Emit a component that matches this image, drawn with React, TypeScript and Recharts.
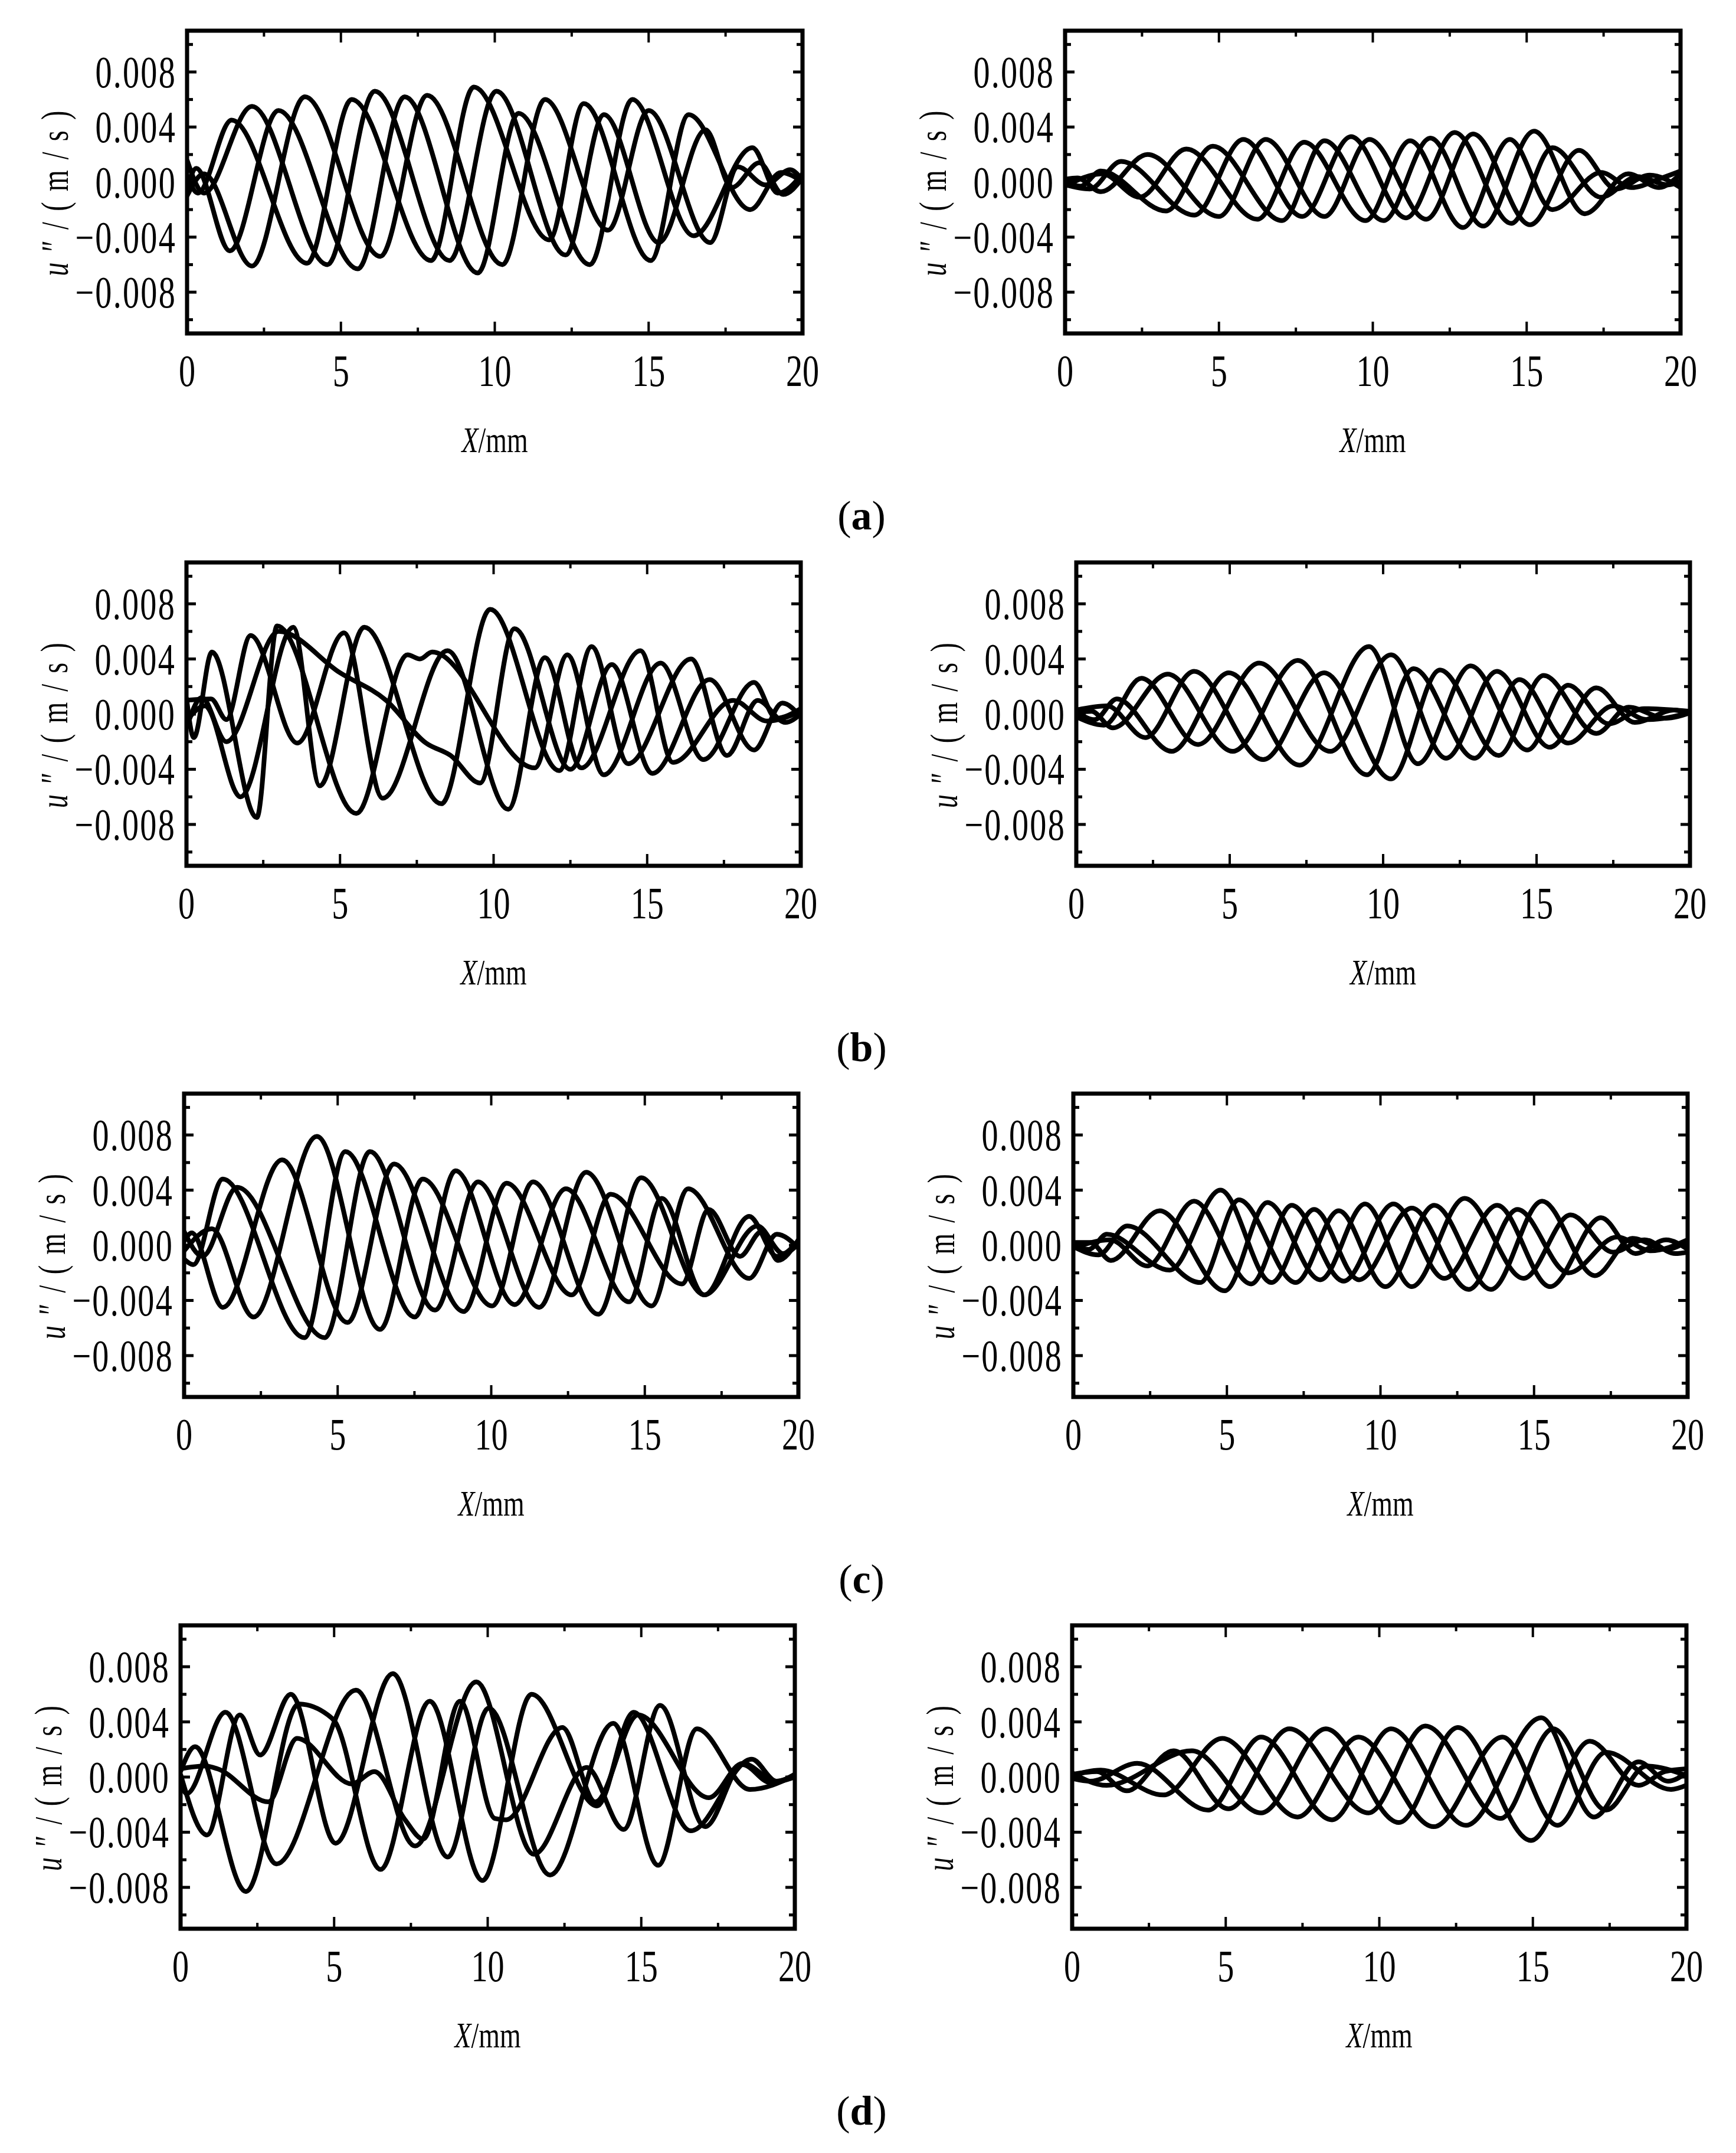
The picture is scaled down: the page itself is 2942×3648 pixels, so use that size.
import React from 'react';
import { LineChart, Line, XAxis, YAxis, ReferenceArea } from 'recharts';

type Pt = [number, number];

const X_TICKS = [0, 2.5, 5, 7.5, 10, 12.5, 15, 17.5, 20];
const Y_TICKS = [-0.01, -0.008, -0.006, -0.004, -0.002, 0, 0.002, 0.004, 0.006, 0.008, 0.01];
const PANEL_NAMES = ['a', 'b', 'c', 'd'];

// (a) left
const aL1: Pt[] = [[0, 0.0005], [0.35, -0.0008], [1.45, 0.0045], [3.9, -0.0059], [5.35, 0.006], [7.93, -0.0057], [9.32, 0.0069], [11.77, -0.0042], [12.89, 0.0057], [15.07, -0.0057], [16.3, 0.0049], [18.3, -0.002], [19.3, 0.0007], [20, 0]];
const aL2: Pt[] = [[0, 0.0016], [0.55, -0.0008], [2.11, 0.0055], [4.56, -0.006], [6.1, 0.0066], [8.53, -0.0057], [10.05, 0.0066], [12.3, -0.0053], [13.55, 0.0049], [15.33, -0.0044], [16.85, 0.0038], [17.7, -0.0004], [18.6, 0.0014], [19.37, -0.0009], [20, 0.0003]];
const aL3: Pt[] = [[0, -0.0005], [0.3, 0.001], [1.39, -0.005], [2.97, 0.0052], [5.55, -0.0063], [7.07, 0.0062], [9.45, -0.0066], [10.77, 0.005], [13.09, -0.006], [14.47, 0.006], [16.46, -0.0039], [18.37, 0.0025], [19.2, -0.0008], [20, 0.0006]];
const aL4: Pt[] = [[0, -0.001], [0.55, 0.0006], [2.11, -0.0061], [3.83, 0.0062], [6.28, -0.0054], [7.8, 0.0063], [10.25, -0.006], [11.63, 0.006], [13.68, -0.0035], [15.0, 0.0052], [17.0, -0.0044], [17.9, 0.0011], [18.8, -0.0002], [19.6, 0.0009], [20, 0.0001]];

// (a) right
const aR1: Pt[] = [[0, 0.0001], [0.5, -0.0003], [1.16, 0.0008], [3.28, -0.0021], [4.8, 0.0026], [7.05, -0.0028], [8.43, 0.003], [10.35, -0.0028], [11.87, 0.0032], [13.59, -0.0032], [15.24, 0.0037], [16.89, -0.0023], [18.3, 0.0006], [19.3, -0.0004], [20, 0.0006]];
const aR2: Pt[] = [[0, -0.0002], [0.8, -0.0005], [1.82, 0.0015], [4.2, -0.0024], [5.79, 0.0031], [7.71, -0.0025], [9.29, 0.0033], [11.08, -0.0026], [12.66, 0.0036], [14.5, -0.003], [15.84, 0.0025], [17.42, -0.0011], [18.6, 0.0004], [19.6, -0.0002], [20, 0.0001]];
const aR3: Pt[] = [[0, 0.0002], [0.4, 0.0003], [1.16, -0.0007], [2.68, 0.002], [5.0, -0.0025], [6.52, 0.0031], [8.43, -0.0025], [9.89, 0.0031], [11.74, -0.0027], [13.26, 0.0035], [15.11, -0.0031], [16.7, 0.0023], [17.9, -0.0005], [19.0, 0.0005], [20, -0.0004]];
const aR4: Pt[] = [[0, -0.0003], [1.2, 0.0006], [2.42, -0.0011], [3.94, 0.0024], [6.25, -0.0027], [7.77, 0.0029], [9.76, -0.0028], [11.21, 0.003], [12.93, -0.0033], [14.45, 0.0031], [15.84, -0.002], [17.42, 0.0007], [18.4, -0.0004], [19.4, 0.0003], [20, 0.0008]];

// (b) left
const bL1: Pt[] = [[0, 0.001], [0.8, 0.0011], [1.3, -0.0004], [2.09, 0.0057], [3.61, -0.0021], [5.13, 0.0059], [6.39, -0.0061], [8.5, 0.0046], [10.48, -0.0069], [11.67, 0.0041], [12.86, -0.0039], [14.78, 0.0046], [15.84, -0.0035], [17.8, 0.001], [18.9, -0.0005], [20, 0.0002]];
const bL2: Pt[] = [[0, 0.0012], [0.24, -0.0017], [0.83, 0.0045], [2.29, -0.0075], [2.95, 0.0064], [5.53, -0.0072], [7.2, 0.0043], [7.6, 0.004], [8.0, 0.0045], [11.34, -0.0039], [12.4, 0.0043], [13.59, -0.0044], [15.44, 0.0037], [16.83, -0.0033], [18.48, 0.0023], [19.2, -0.0003], [20, 0.0004]];
const bL3: Pt[] = [[0, -0.0005], [0.6, 0.0006], [1.76, -0.006], [3.48, 0.0063], [4.34, -0.0052], [5.79, 0.0063], [8.3, -0.0065], [9.89, 0.0076], [12.14, -0.0041], [13.19, 0.0049], [14.38, -0.0036], [16.43, 0.004], [17.6, -0.003], [18.6, 0.001], [19.5, -0.0006], [20, 0]];
const bL4: Pt[] = [[0, -0.001], [0.5, 0.0012], [1.3, -0.002], [3.0, 0.006], [5.0, 0.003], [6.5, 0.001], [7.8, -0.0021], [8.6, -0.003], [9.56, -0.005], [10.68, 0.0062], [12.5, -0.004], [13.85, 0.0036], [15.17, -0.0043], [17.03, 0.0025], [18.48, -0.0026], [19.4, 0.0008], [20, -0.0002]];

// (b) right
const bR1: Pt[] = [[0, 0.0002], [0.6, -0.0004], [1.32, 0.0011], [3.11, -0.0027], [4.97, 0.003], [7.28, -0.0037], [9.54, 0.0049], [11.13, -0.0036], [12.85, 0.0035], [14.7, -0.0026], [16.03, 0.0021], [17.35, -0.0007], [18.5, 0.0004], [20, 0.0002]];
const bR2: Pt[] = [[0, -0.0002], [0.9, -0.0008], [2.12, 0.0026], [3.97, -0.0022], [5.96, 0.0037], [8.28, -0.0027], [10.26, 0.0043], [12.05, -0.0032], [13.71, 0.0031], [15.43, -0.0024], [16.95, 0.0019], [18.2, -0.0006], [19.5, 0.0003], [20, 0]];
const bR3: Pt[] = [[0, 0.0001], [0.5, 0.0002], [1.19, -0.001], [2.98, 0.0029], [5.1, -0.0027], [7.22, 0.0039], [9.47, -0.0044], [10.99, 0.0033], [12.98, -0.0032], [14.44, 0.0025], [16.03, -0.0021], [17.5, 0.0006], [18.6, -0.0004], [20, 0.0001]];
const bR4: Pt[] = [[0, 0.0003], [1.0, 0.0006], [2.25, -0.0017], [3.84, 0.0031], [6.09, -0.0033], [8.08, 0.003], [10.26, -0.0047], [11.85, 0.0032], [13.77, -0.003], [15.23, 0.0028], [16.95, -0.0014], [18.0, 0.0005], [19.2, -0.0003], [20, 0.0001]];

// (c) left
const cL1: Pt[] = [[0, -0.001], [0.3, -0.0014], [1.26, 0.0048], [3.92, -0.0067], [5.25, 0.0068], [7.51, -0.0052], [8.84, 0.0054], [10.76, -0.0043], [12.43, 0.0041], [14.49, -0.0041], [15.55, 0.0034], [16.94, -0.0036], [18.67, 0.0014], [19.5, -0.0006], [20, 0.0001]];
const cL2: Pt[] = [[0, 0.001], [0.6, -0.0008], [1.73, 0.0042], [4.58, -0.0067], [6.05, 0.0068], [8.17, -0.0047], [9.57, 0.0046], [11.56, -0.0045], [13.09, 0.0053], [15.22, -0.0044], [16.41, 0.0041], [18.4, -0.0024], [19.3, 0.0008], [20, -0.0002]];
const cL3: Pt[] = [[0, 0.0003], [0.25, 0.0009], [1.26, -0.0045], [3.19, 0.0062], [5.32, -0.0056], [6.84, 0.0059], [9.1, -0.0048], [10.5, 0.0045], [12.62, -0.0036], [13.89, 0.0037], [16.21, -0.0028], [17.08, 0.0026], [18.1, -0.0008], [18.8, 0.001], [19.33, -0.0011], [20, 0.0004]];
const cL4: Pt[] = [[0, -0.0004], [0.9, 0.0012], [2.26, -0.0052], [4.32, 0.0079], [6.38, -0.0061], [7.77, 0.0048], [10.03, -0.0044], [11.36, 0.0046], [13.49, -0.005], [14.88, 0.0049], [16.94, -0.0036], [18.4, 0.0021], [19.3, -0.0008], [20, 0.0003]];

// (c) right
const cR1: Pt[] = [[0, 0.0001], [0.5, -0.0003], [1.09, 0.0008], [3.14, -0.0018], [4.79, 0.004], [6.45, -0.0027], [7.84, 0.0026], [9.3, -0.0025], [11.02, 0.0027], [12.87, -0.0032], [14.46, 0.0026], [16.12, -0.002], [17.7, 0.0006], [18.8, -0.0004], [20, 0.0004]];
const cR2: Pt[] = [[0, -0.0001], [0.82, -0.0007], [1.75, 0.0014], [4.13, -0.0027], [5.39, 0.0033], [7.24, -0.0027], [8.64, 0.0025], [10.16, -0.003], [11.75, 0.0029], [13.6, -0.0032], [15.26, 0.0032], [16.98, -0.0022], [18.2, 0.0005], [19.3, -0.0003], [20, 0.0003]];
const cR3: Pt[] = [[0, 0.0002], [0.56, 0.0002], [1.22, -0.0011], [2.81, 0.0025], [4.93, -0.0033], [6.32, 0.0031], [8.04, -0.0025], [9.5, 0.003], [11.02, -0.003], [12.74, 0.0034], [14.66, -0.0024], [16.19, 0.0022], [17.58, -0.0005], [18.6, 0.0004], [19.6, -0.0006], [20, -0.0005]];
const cR4: Pt[] = [[0, -0.0002], [1.2, 0.0004], [2.41, -0.0015], [3.93, 0.0032], [5.79, -0.0028], [7.11, 0.0029], [8.8, -0.0026], [10.42, 0.003], [12.08, -0.0024], [13.8, 0.0029], [15.52, -0.003], [17.18, 0.002], [18.3, -0.0006], [19.3, 0.0004], [20, -0.0003]];

// (d) left
const dL1: Pt[] = [[0, 0.0004], [0.47, 0.0022], [2.13, -0.0083], [3.85, 0.0053], [4.8, 0.0045], [5.0, 0.0041], [6.51, -0.0067], [8.11, 0.0055], [9.83, -0.0075], [11.43, 0.006], [13.56, -0.0021], [14.75, 0.0047], [16.61, -0.0039], [18.6, 0.0013], [19.4, -0.0003], [20, 0.0001]];
const dL2: Pt[] = [[0, 0.0002], [0.86, -0.0042], [1.93, 0.0045], [2.59, 0.0016], [3.59, 0.006], [5.05, -0.0048], [6.91, 0.0075], [8.7, -0.0058], [10.03, 0.005], [12.03, -0.0071], [14.09, 0.0039], [15.55, -0.0064], [16.81, 0.0035], [18.54, -0.0009], [20, 0.0001]];
const dL3: Pt[] = [[0, -0.0004], [0.2, -0.0012], [1.46, 0.0047], [3.12, -0.0063], [5.71, 0.0063], [7.64, -0.005], [9.63, 0.0069], [11.5, -0.0056], [13.22, 0.0007], [14.43, -0.0038], [15.61, 0.0052], [17.08, -0.0036], [18.3, 0.0009], [19.2, -0.0004], [20, 0]];
const dL4: Pt[] = [[0, 0.0006], [0.8, 0.0008], [1.2, 0.0006], [2.86, -0.0018], [3.79, 0.0028], [5.58, -0.0005], [6.31, 0.0004], [7.31, -0.0031], [7.9, -0.0045], [9.1, 0.0055], [10.23, -0.003], [10.6, -0.0031], [12.43, 0.0036], [13.5, -0.0018], [14.9, 0.0045], [17.2, -0.0015], [18.3, 0.001], [19.4, -0.0003], [20, 0.0002]];

// (d) right
const dR1: Pt[] = [[0, 0.0001], [0.93, 0.0005], [2.97, -0.0013], [4.89, 0.0028], [7.34, -0.0029], [9.32, 0.0029], [11.77, -0.0036], [14.01, 0.0029], [15.8, -0.0035], [17.38, 0.0018], [19.5, -0.0009], [20, -0.0006]];
const dR2: Pt[] = [[0, -0.0001], [0.6, -0.0003], [2.12, 0.001], [4.43, -0.0024], [6.15, 0.0029], [8.46, -0.0031], [10.38, 0.0035], [12.82, -0.0035], [15.27, 0.0043], [16.99, -0.0029], [18.44, 0.0011], [19.4, -0.0003], [20, 0.0003]];
const dR3: Pt[] = [[0, 0.0002], [0.8, 0.0004], [1.78, -0.001], [3.3, 0.0019], [5.09, -0.0023], [7.07, 0.0035], [9.65, -0.0026], [11.5, 0.0037], [13.95, -0.003], [15.66, 0.0035], [17.38, -0.0024], [18.7, 0.0008], [20, 0.0001]];
const dR4: Pt[] = [[0, 0.0003], [1.12, -0.0006], [3.9, 0.0019], [6.15, -0.0026], [8.26, 0.0035], [10.64, -0.0033], [12.56, 0.0036], [14.94, -0.0046], [16.85, 0.0026], [18.44, -0.0006], [19.3, 0.0004], [20, 0.0006]];

const FONT = '"Liberation Serif", "DejaVu Serif", serif';
const AXIS_W = 300;
const AXIS_H = 240;
const MT = 12;
const MR = 70;

// plot-area boxes in page pixels
const PANELS = [
  { left: 317, top: 52, w: 1043, h: 513, curves: [aL1, aL2, aL3, aL4] },
  { left: 1805, top: 52, w: 1043, h: 513, curves: [aR1, aR2, aR3, aR4] },
  { left: 316, top: 953, w: 1041, h: 514, curves: [bL1, bL2, bL3, bL4] },
  { left: 1824, top: 953, w: 1040, h: 514, curves: [bR1, bR2, bR3, bR4] },
  { left: 312, top: 1853, w: 1041, h: 514, curves: [cL1, cL2, cL3, cL4] },
  { left: 1819, top: 1853, w: 1041, h: 514, curves: [cR1, cR2, cR3, cR4] },
  { left: 306, top: 2754, w: 1041, h: 514, curves: [dL1, dL2, dL3, dL4] },
  { left: 1817, top: 2754, w: 1041, h: 514, curves: [dR1, dR2, dR3, dR4] },
];

const fmtY = (v: number) => (v < 0 ? '\u2212' : '') + Math.abs(v).toFixed(3);

function XTitle({ px, py }: any) {
  return (
    <text transform={`translate(${px},${py}) scale(0.74,1)`} textAnchor="middle" fontSize={62} fontFamily={FONT} fill="#000">
      <tspan fontStyle="italic">X</tspan>/mm
    </text>
  );
}

function YTitle({ px, py }: any) {
  return (
    <text transform={`translate(${px},${py}) rotate(-90) scale(0.7,1)`} textAnchor="middle" dy="0.3em" fontSize={66} fontFamily={FONT} fill="#000" letterSpacing={26}>
      <tspan fontStyle="italic">u</tspan>″/(m/s)
    </text>
  );
}

function Panel({ left, top, w, h, curves }: { left: number; top: number; w: number; h: number; curves: Pt[][] }) {
  const pL = AXIS_W;
  const pR = AXIS_W + w;
  const pT = MT;
  const pB = MT + h;

  const xTick = (p: any) => {
    const v = p.payload.value;
    const major = v % 5 === 0;
    const len = major ? 20 : 10;
    const inner = v > 0 && v < 20;
    return (
      <g>
        {inner && <line x1={p.x} x2={p.x} y1={pB} y2={pB - len} stroke="#000" strokeWidth={4} />}
        {inner && <line x1={p.x} x2={p.x} y1={pT} y2={pT + len} stroke="#000" strokeWidth={4} />}
        {major && (
          <text transform={`translate(${p.x},${pB + 89}) scale(0.74,1)`} textAnchor="middle" fontSize={76} fontFamily={FONT} fill="#000">
            {v}
          </text>
        )}
      </g>
    );
  };

  const yTick = (p: any) => {
    const v = p.payload.value;
    const major = Math.round(v * 1000) % 4 === 0;
    const len = major ? 16 : 10;
    return (
      <g>
        <line x1={pL} x2={pL + len} y1={p.y} y2={p.y} stroke="#000" strokeWidth={5} />
        <line x1={pR} x2={pR - len} y1={p.y} y2={p.y} stroke="#000" strokeWidth={5} />
        {major && (
          <text transform={`translate(${pL - 18},${p.y + 26}) scale(0.74,1)`} textAnchor="end" fontSize={76} fontFamily={FONT} fill="#000" letterSpacing={3}>
            {fmtY(v)}
          </text>
        )}
      </g>
    );
  };

  return (
    <div style={{ position: 'absolute', left: left - AXIS_W, top: top - MT }}>
      <LineChart width={AXIS_W + w + MR} height={MT + h + AXIS_H} margin={{ top: MT, right: MR, bottom: 0, left: 0 }}>
        <XAxis
          type="number"
          dataKey="x"
          domain={[0, 20]}
          ticks={X_TICKS}
          interval={0}
          allowDataOverflow
          axisLine={false}
          tickLine={false}
          tick={xTick}
          height={AXIS_H}
          label={<XTitle px={pL + w / 2} py={pB + 201} />}
        />
        <YAxis
          type="number"
          domain={[-0.011, 0.011]}
          ticks={Y_TICKS}
          interval={0}
          allowDataOverflow
          axisLine={false}
          tickLine={false}
          tick={yTick}
          width={AXIS_W}
          label={<YTitle px={pL - 222} py={pT + h / 2 + 10} />}
        />
        <ReferenceArea x1={0} x2={20} y1={-0.011} y2={0.011} fill="none" stroke="#000" strokeWidth={7} />
        {curves.map((c, i) => (
          <Line
            key={i}
            data={c.map(([x, y]) => ({ x, y }))}
            dataKey="y"
            type="monotone"
            stroke="#000"
            strokeWidth={8}
            dot={false}
            activeDot={false}
            isAnimationActive={false}
          />
        ))}
      </LineChart>
    </div>
  );
}

export default function App() {
  return (
    <div style={{ position: 'absolute', left: 0, top: 0, width: 2942, height: 3648, background: '#fff' }}>
      <svg width={2942} height={3648} style={{ position: 'absolute', left: 0, top: 0 }}>
        {PANEL_NAMES.map((n, i) => (
          <text key={n} x={1460} y={897 + i * 901} textAnchor="middle" fontSize={70} fontFamily={FONT} fill="#000">
            (<tspan fontWeight="bold">{n}</tspan>)
          </text>
        ))}
      </svg>
      {PANELS.map((p, i) => (
        <Panel key={i} {...p} />
      ))}
    </div>
  );
}
